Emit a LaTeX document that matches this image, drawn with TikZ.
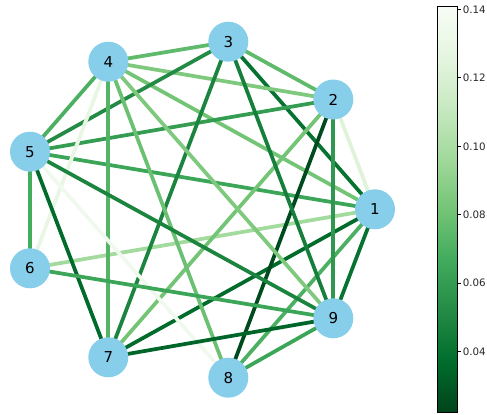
\documentclass[tikz,border=0pt]{standalone}
\usepackage{fontspec}
\setmainfont{DejaVu Sans}
\pgfdeclarelayer{bg}
\pgfsetlayers{bg,main}
\definecolor{nodeblue}{RGB}{135,206,235}
\definecolor{g0}{RGB}{247,252,245}
\definecolor{g1}{RGB}{229,245,224}
\definecolor{g2}{RGB}{199,233,192}
\definecolor{g3}{RGB}{161,217,155}
\definecolor{g4}{RGB}{116,196,118}
\definecolor{g5}{RGB}{65,171,93}
\definecolor{g6}{RGB}{35,139,69}
\definecolor{g7}{RGB}{0,109,44}
\definecolor{g8}{RGB}{0,68,27}
\pgfdeclareverticalshading{greensbar}{100bp}{color(0bp)=(g8); color(25bp)=(g8); color(31.25bp)=(g7); color(37.5bp)=(g6); color(43.75bp)=(g5); color(50bp)=(g4); color(56.25bp)=(g3); color(62.5bp)=(g2); color(68.75bp)=(g1); color(75bp)=(g0); color(100bp)=(g0)}
\begin{document}
\begin{tikzpicture}[x=0.75pt,y=-0.75pt,
  vertex/.style={circle,fill=nodeblue,minimum size=30pt,inner sep=0pt,font=\fontsize{11.25}{13}\selectfont},
  edge/.style={line width=2.8pt},
  ticklabel/.style={anchor=west,inner sep=0pt,font=\fontsize{7.7}{9}\selectfont,text=black!85}]
\useasboundingbox (0,0) rectangle (487,415);
% nodes
\node[vertex] (1) at (375,209.3) {1};
\node[vertex] (2) at (333.3,99.5) {2};
\node[vertex] (3) at (228.3,41.7) {3};
\node[vertex] (4) at (108.3,61.7) {4};
\node[vertex] (5) at (30,151.7) {5};
\node[vertex] (6) at (30,268.3) {6};
\node[vertex] (7) at (108.3,357.3) {7};
\node[vertex] (8) at (228.3,377.7) {8};
\node[vertex] (9) at (333.3,318.3) {9};
% edges
\begin{pgfonlayer}{bg}
\foreach \a/\b/\cr/\cg/\cb in {
  1/2/223/243/218, 1/3/7/115/49, 1/4/116/196/118, 1/5/59/165/88,
  1/6/163/218/157, 1/7/0/107/43, 1/8/75/176/98, 1/9/7/115/49,
  2/3/96/186/108, 2/4/127/201/127, 2/5/52/157/82, 2/7/116/196/118,
  2/8/0/75/29, 2/9/47/152/78,
  3/4/96/186/108, 3/5/35/139/69, 3/7/27/132/63, 3/9/21/127/59,
  4/5/75/176/98, 4/6/233/246/228, 4/7/83/180/102, 4/8/108/192/114, 4/9/127/201/127,
  5/6/67/172/94, 5/7/0/107/43, 5/8/240/249/237, 5/9/27/132/63,
  6/9/59/165/88, 7/9/0/101/41, 8/9/59/165/88}
{
  \definecolor{ecol}{RGB}{\cr,\cg,\cb}
  \draw[edge,ecol] (\a.center) -- (\b.center);
}
\end{pgfonlayer}
% colorbar
\shade[shading=greensbar] (437.3,6.7) rectangle (457.3,412);
\draw[line width=0.6pt] (437.3,6.7) rectangle (457.3,412);
\foreach \v/\y in {0.04/351.7, 0.06/283.2, 0.08/214.7, 0.10/146.3, 0.12/77.8, 0.14/9.3}
{
  \draw[line width=0.6pt] (457.3,\y) -- (460.8,\y);
  \node[ticklabel] at (462.6,\y) {\v};
}
\end{tikzpicture}
\end{document}
